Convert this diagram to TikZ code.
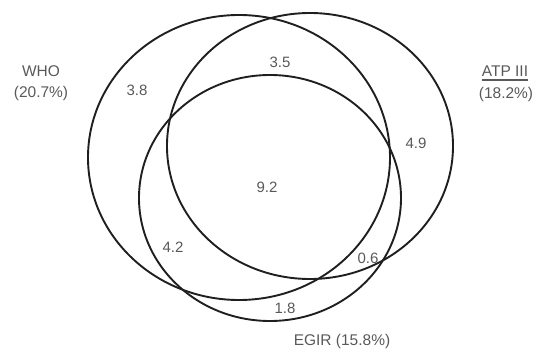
\documentclass[tikz,border=0pt]{standalone}
\usepackage{fontspec}
\setmainfont{Liberation Sans}
\begin{document}
\begin{tikzpicture}[x=1pt,y=-1pt,
  venn/.style={draw=black!88, line width=1.9pt},
  lbl/.style={text=black!65, font=\fontsize{15.5}{17}\selectfont, inner sep=0pt, align=center},
  num/.style={text=black!65, font=\fontsize{15}{17}\selectfont, inner sep=0pt}]
\useasboundingbox (0,0) rectangle (536,350);
% ellipses
\draw[venn] (239,157.5) ellipse [x radius=151pt, y radius=142.5pt];
\draw[venn] (310,146) ellipse [x radius=143pt, y radius=133pt];
\draw[venn] (270,198) ellipse [x radius=131pt, y radius=123pt];
% set labels
\node[lbl] (who) at (41,71) {WHO};
\node[lbl] (whop) at (41,93) {(20.7\%)};
\node[lbl] (atp) at (505,71) {ATP III};
\draw[black!65, line width=1.2pt] (atp.south west) ++(0,3.5) coordinate (ul1) -- (ul1 -| atp.south east);
\node[lbl] (atpp) at (506,94) {(18.2\%)};
\node[lbl] (egir) at (342,341) {EGIR (15.8\%)};
% region values
\node[num] (n38) at (137,90) {3.8};
\node[num] (n35) at (280,62) {3.5};
\node[num] (n49) at (416,143) {4.9};
\node[num] (n92) at (267,187) {9.2};
\node[num] (n42) at (173,247) {4.2};
\node[num] (n06) at (368,258) {0.6};
\node[num] (n18) at (285,308) {1.8};
\end{tikzpicture}
\end{document}
